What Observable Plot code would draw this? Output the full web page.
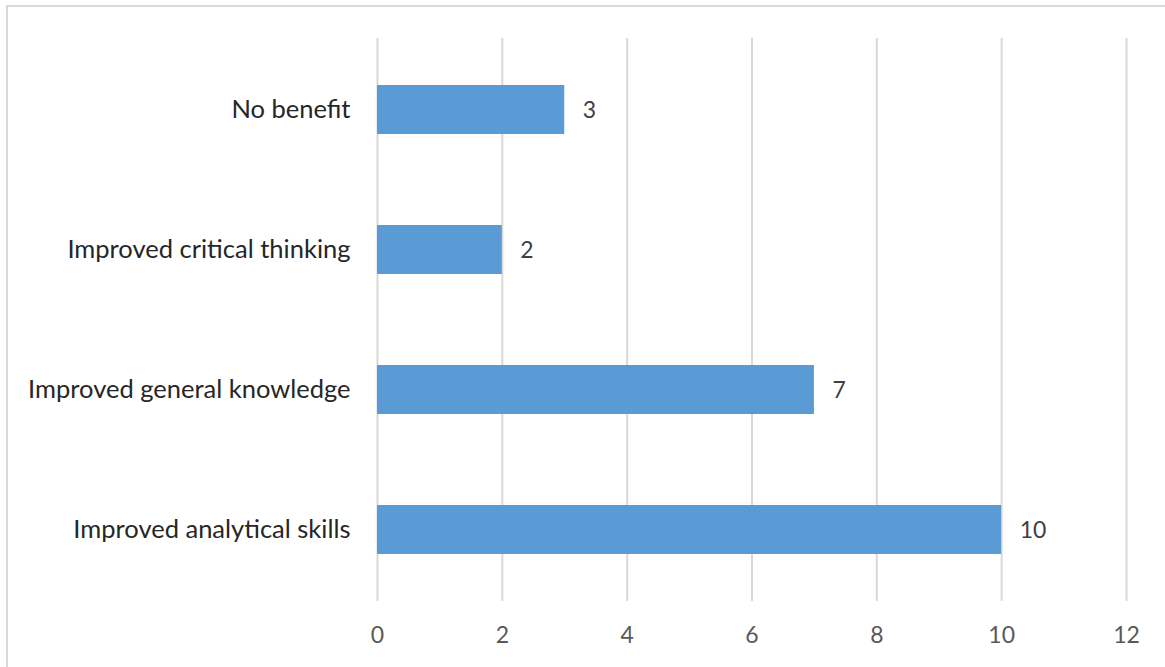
<!DOCTYPE html>
<html>
<head>
<meta charset="utf-8">
<script src="https://cdn.jsdelivr.net/npm/d3@7"></script>
<script src="https://cdn.jsdelivr.net/npm/@observablehq/plot@0.6"></script>
<style>
  html, body { margin: 0; padding: 0; background: #fff; }
  #wrap { position: relative; width: 1165px; height: 667px; overflow: hidden; }
  #frame { position: absolute; left: 6px; top: 5px; right: -10px; bottom: -10px;
           border-top: 2px solid #D9D9D9; border-left: 2px solid #D9D9D9; pointer-events: none; }
  #chart { position: absolute; left: 0; top: 0; }
</style>
</head>
<body>
<div id="wrap"><div id="chart"></div><div id="frame"></div></div>
<script>
const categories = ["No benefit", "Improved critical thinking", "Improved general knowledge", "Improved analytical skills"];
const values = [3, 2, 7, 10];
const xTicks = [0, 2, 4, 6, 8, 10, 12];

const data = categories.map((c, i) => ({category: c, value: values[i]}));

const chart = Plot.plot({
  width: 1165,
  height: 667,
  marginLeft: 377,
  marginRight: 39,
  marginTop: 38,
  marginBottom: 66,
  style: {fontFamily: "Lato, 'Open Sans', sans-serif", fontSize: "23px", background: "#fff"},
  x: {domain: [0, 12], ticks: xTicks, label: null},
  y: {domain: categories, paddingInner: 0.652, paddingOuter: 0.326, label: null},
  marks: [
    Plot.gridX(xTicks, {stroke: "#D9D9D9", strokeOpacity: 1, strokeWidth: 2}),
    Plot.barX(data, {x: "value", y: "category", fill: "#5B9BD5"}),
    Plot.text(data, {x: "value", y: "category", text: d => String(d.value), dx: 18, dy: 1, textAnchor: "start", fill: "#404040", fontSize: 23}),
    Plot.axisX(xTicks, {tickSize: 0, tickPadding: 25, fill: "#595959", fontSize: 23, label: null}),
    Plot.axisY({tickSize: 0, tickPadding: 27, fill: "#262626", fontSize: 25.5, label: null})
  ]
});
document.getElementById("chart").appendChild(chart);
</script>
</body>
</html>
